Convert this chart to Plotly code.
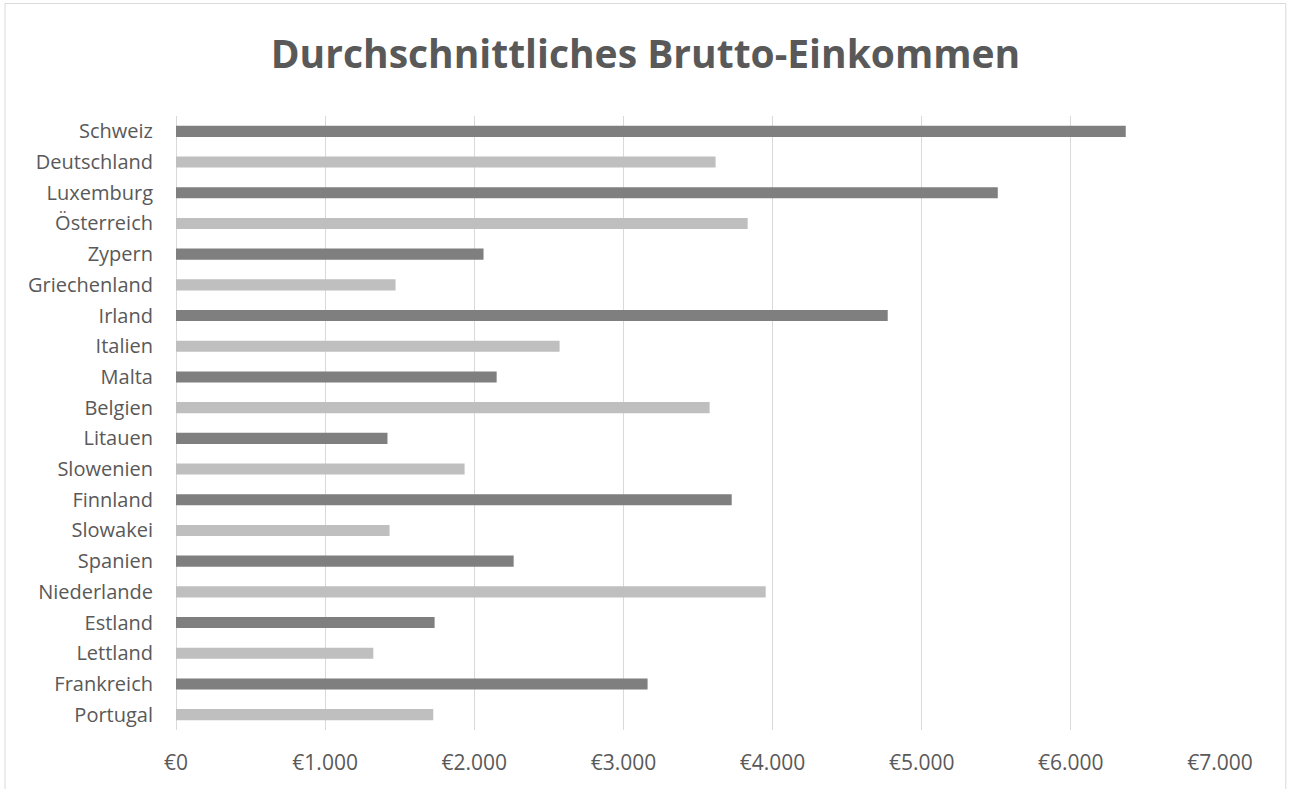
import plotly.graph_objects as go

countries = ["Schweiz", "Deutschland", "Luxemburg", "Österreich", "Zypern", "Griechenland",
             "Irland", "Italien", "Malta", "Belgien", "Litauen", "Slowenien", "Finnland",
             "Slowakei", "Spanien", "Niederlande", "Estland", "Lettland", "Frankreich", "Portugal"]
income = [6368, 3618, 5510, 3833, 2062, 1472, 4772, 2572, 2150, 3578, 1418, 1935, 3726,
          1432, 2264, 3954, 1734, 1323, 3162, 1725]
tick_vals = [0, 1000, 2000, 3000, 4000, 5000, 6000, 7000]
tick_text = ["€0", "€1.000", "€2.000", "€3.000", "€4.000", "€5.000", "€6.000", "€7.000"]

DARK = "#7f7f7f"
LIGHT = "#bfbfbf"
colors = [DARK if i % 2 == 0 else LIGHT for i in range(len(countries))]

W, H = 1291, 789
ml, mr, mt, mb = 175.5, 71.3, 116, 59
pw, ph = W - ml - mr, H - mt - mb

fig = go.Figure(go.Bar(
    x=income, y=countries, orientation="h",
    marker=dict(color=colors, line=dict(width=0)),
    hoverinfo="x+y",
))

def px_x(p):
    return (p - ml) / pw

def px_y(p):
    return (H - mb - p) / ph

fig.update_layout(
    width=W, height=H,
    margin=dict(l=ml, r=mr, t=mt, b=mb),
    paper_bgcolor="white", plot_bgcolor="white",
    bargap=0.64,
    showlegend=False,
    title=dict(
        text="<b>Durchschnittliches Brutto-Einkommen</b>",
        x=0.5, xanchor="center", xref="container",
        y=1 - 54 / H, yanchor="middle", yref="container",
        font=dict(family="Open Sans", size=39, color="#595959"),
    ),
    font=dict(family="Open Sans", color="#595959"),
    xaxis=dict(
        range=[0, 7000], tickvals=tick_vals, ticktext=tick_text,
        showgrid=True, gridcolor="#d9d9d9", gridwidth=1,
        zeroline=True, zerolinecolor="#d9d9d9", zerolinewidth=1,
        showline=False, ticks="", ticklabelstandoff=18,
        tickfont=dict(family="Open Sans", size=21, color="#595959"),
        fixedrange=True,
    ),
    yaxis=dict(
        autorange="reversed", showgrid=False, zeroline=False, showline=False,
        ticks="", ticklabelstandoff=22,
        tickfont=dict(family="Open Sans", size=20, color="#595959"),
        fixedrange=True,
    ),
    shapes=[dict(
        type="rect", xref="paper", yref="paper",
        x0=px_x(4.5), x1=px_x(1285.5), y0=px_y(800), y1=px_y(3.5),
        line=dict(color="#d9d9d9", width=1), fillcolor="rgba(0,0,0,0)",
    )],
)

fig.write_html("out.html", config={"displayModeBar": False},
               post_script="document.body.style.margin='0';")
